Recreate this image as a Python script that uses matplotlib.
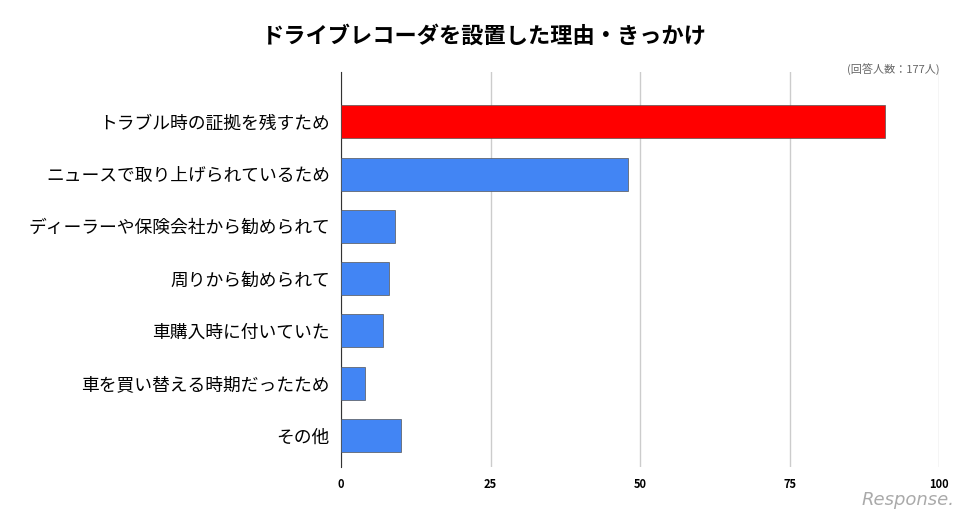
import matplotlib
matplotlib.use("Agg")
import matplotlib.pyplot as plt

categories = ["トラブル時の証拠を残すため", "ニュースで取り上げられているため", "ディーラーや保険会社から勧められて",
              "周りから勧められて", "車購入時に付いていた", "車を買い替える時期だったため", "その他"]
values = [91, 48, 9, 8, 7, 4, 10]
colors = ["#ff0000"] + ["#4285f4"] * 6
xticks = [0, 25, 50, 75, 100]

plt.rcParams["font.family"] = "Noto Sans CJK JP"
fig = plt.figure(figsize=(9.68, 5.14), dpi=100)
ax = fig.add_axes([341/968, 1-467/514, (939-341)/968, (467-72)/514])
y = list(range(len(categories)))
ax.barh(y, values, height=0.63, color=colors, edgecolor="#555555", linewidth=0.5, zorder=3)
ax.set_ylim(6.6, -0.95)
ax.set_xlim(0, 100)
ax.set_yticks(y)
ax.set_yticklabels(categories, fontsize=12.8)
ax.set_xticks(xticks)
ax.set_xticklabels([str(t) for t in xticks], fontsize=8, fontweight="bold")
ax.grid(axis="x", color="#cccccc", linewidth=1, zorder=0)
for s in ["top", "right", "bottom"]:
    ax.spines[s].set_visible(False)
ax.spines["left"].set_color("#333333")
ax.tick_params(length=0, pad=8)
fig.text(0.5, 1-36/514, "ドライブレコーダを設置した理由・きっかけ", ha="center", va="center",
         fontsize=16, fontweight="bold")
fig.text(940/968, 1-70/514, "(回答人数：177人)", ha="right", va="center", fontsize=8, color="#666666")
fig.text(955/968, 1-500/514, "Response.", ha="right", va="center", fontsize=13, color="#aaaaaa",
         fontstyle="italic", family="DejaVu Sans")
fig.savefig("out.png", dpi=100)
